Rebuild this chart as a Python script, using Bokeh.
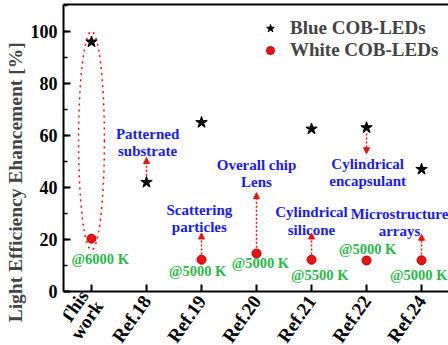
from bokeh.plotting import figure
from bokeh.models import (Range1d, FixedTicker, SingleIntervalTicker, Arrow, NormalHead,
                          Legend, LegendItem, ColumnDataSource, LinearAxis)
from bokeh.core.properties import value
from bokeh.embed import file_html
from bokeh.resources import INLINE

# ---- data ----
categories = ["This\nwork", "Ref.18", "Ref.19", "Ref.20", "Ref.21", "Ref.22", "Ref.24"]
blue_x = [0, 1, 2, 4, 5, 6]
blue_y = [96, 42, 65, 62.5, 63, 47]
white_x = [0, 2, 3, 4, 5, 6]
white_y = [20.3, 12.2, 14.6, 12.2, 11.9, 12.0]

method_labels = ["Patterned\nsubstrate", "Overall chip\nLens", "Cylindrical\nencapsulant",
                 "Scattering\nparticles", "Cylindrical\nsilicone", "Microstructure\narrays"]
method_x = [1.02, 3.0, 5.02, 1.96, 4.0, 5.6]
method_y = [57.3, 45.4, 45.8, 28.0, 27.0, 26.5]

cct_labels = ["@6000 K", "@5000 K", "@5000 K", "@5500 K", "@5000 K", "@5000 K"]
cct_x = [0.16, 1.93, 3.07, 4.15, 5.02, 5.95]
cct_y = [12.3, 8.0, 10.8, 6.2, 16.2, 6.2]

arrow_x = [1, 2, 3, 4, 5, 6]
arrow_y0 = [44.5, 14.2, 16.8, 14.2, 60.8, 14.2]
arrow_y1 = [51.5, 22.5, 38.0, 22.5, 53.0, 22.0]

RED = "#ee1111"
BLUE = "#1a1aff"
GREEN = "#2db84d"
FONT = "Liberation Serif"

p = figure(width=448, height=345, x_range=Range1d(-0.509, 6.49), y_range=Range1d(-20.8, 110.4),
           output_backend="svg", toolbar_location=None,
           min_border_left=63, min_border_right=0, min_border_top=4, min_border_bottom=0)
p.grid.visible = False
p.outline_line_color = None
p.background_fill_color = "white"
p.border_fill_color = "white"

# x axis sits at y = 0, category labels rotated beneath it
xa = p.below[0]
xa.fixed_location = 0
xa.ticker = FixedTicker(ticks=list(range(len(categories))))
xa.major_label_overrides = {i: c for i, c in enumerate(categories)}
xa.major_label_orientation = 0.96
xa.minor_tick_line_color = None
xa.major_label_text_font_size = "19px"
xa.major_label_text_line_height = 0.85
xa.major_label_standoff = 6

ya = p.left[0]
ya.ticker = SingleIntervalTicker(interval=20, num_minor_ticks=2)
ya.bounds = (0, 110.4)
ya.axis_label = "Light Efficiency Ehancement [%]\u00a0\u00a0\u00a0"
ya.axis_label_standoff = 2
ya.major_label_standoff = 6
ya.major_label_text_font_size = "18px"

for ax in (xa, ya):
    ax.axis_line_width = 2
    ax.major_tick_line_width = 2
    ax.minor_tick_line_width = 1.5
    ax.major_tick_in = 7
    ax.major_tick_out = 0
    ax.minor_tick_in = 4
    ax.minor_tick_out = 0
    ax.major_label_text_font = FONT
    ax.major_label_text_font_style = "bold"
    ax.major_label_text_color = "black"
    ax.axis_label_text_font = FONT
    ax.axis_label_text_font_style = "bold"
    ax.axis_label_text_font_size = "19.5px"

# top frame line
top = LinearAxis(ticker=FixedTicker(ticks=[]), axis_line_width=2, major_tick_in=0,
                 major_tick_out=0, minor_tick_in=0, minor_tick_out=0,
                 major_label_text_font_size="0px", major_label_standoff=0)
p.add_layout(top, "above")

# ellipse around this work
p.ellipse(x=[0], y=[58], width=[0.47], height=[84], fill_alpha=0,
          line_color=RED, line_dash="dotted", line_width=1.5)

# arrows
asrc = ColumnDataSource(dict(x0=arrow_x, y0=arrow_y0, x1=arrow_x, y1=arrow_y1))
p.add_layout(Arrow(end=NormalHead(size=6, fill_color=RED, line_color=RED),
                   x_start="x0", y_start="y0", x_end="x1", y_end="y1", source=asrc,
                   line_color=RED, line_dash="2 2", line_width=1.5))

# markers
r_blue = p.scatter(blue_x, blue_y, marker="star", size=12, fill_color="black", line_color="black")
r_white = p.scatter(white_x, white_y, marker="circle", size=9, fill_color=RED, line_color="#bb0000")

# annotations
p.text(method_x, method_y, text=method_labels, text_font=value(FONT), text_font_style="bold",
       text_font_size="15px", text_color=BLUE, text_align="center", text_baseline="middle",
       text_line_height=1.1)
p.text(cct_x, cct_y, text=cct_labels, text_font=value(FONT), text_font_style="bold",
       text_font_size="14.5px", text_color=GREEN, text_align="center", text_baseline="middle")

legend = Legend(items=[LegendItem(label="Blue COB-LEDs", renderers=[r_blue]),
                       LegendItem(label="White COB-LEDs", renderers=[r_white])],
                location=(197, 284), border_line_color=None, background_fill_alpha=0,
                padding=0, margin=0, spacing=0, glyph_width=20, glyph_height=20,
                label_height=20, label_standoff=10,
                label_text_font=FONT, label_text_font_style="bold",
                label_text_font_size="19px")
p.add_layout(legend)

open("out.html", "w").write(file_html(p, INLINE))
